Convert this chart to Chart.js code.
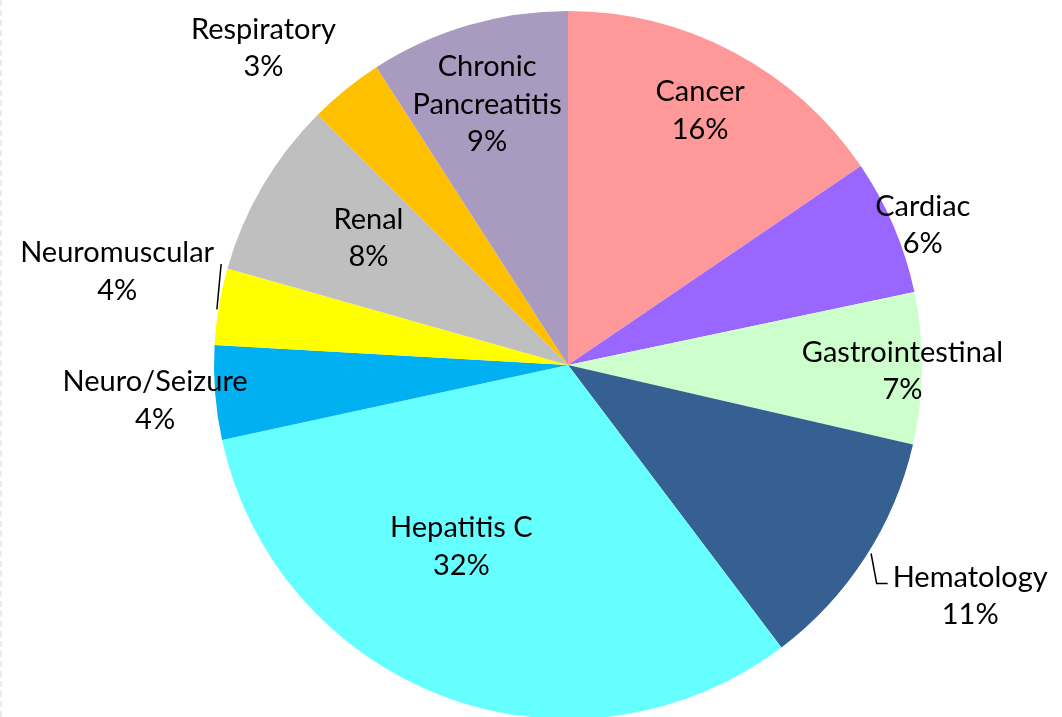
<!DOCTYPE html>
<html>
<head>
<meta charset="utf-8">
<script src="https://cdn.jsdelivr.net/npm/chart.js@4"></script>
<style>
  html, body { margin: 0; padding: 0; background: #fff; overflow: hidden; }
  #wrap { position: relative; width: 1062px; height: 720px; }
  #edge { position: absolute; left: 0; top: 0; width: 0; height: 717px; border-left: 2px dashed #e6ebf4; }
</style>
</head>
<body>
<div id="wrap">
  <canvas id="myChart" width="1062" height="720"></canvas>
  <div id="edge"></div>
</div>
<script>
const categories = ['Cancer', 'Cardiac', 'Gastrointestinal', 'Hematology', 'Hepatitis C',
  'Neuro/Seizure', 'Neuromuscular', 'Renal', 'Respiratory', 'Chronic\nPancreatitis']
const shares = [15.5, 6.2, 6.9, 11.1, 31.9, 4.3, 3.5, 8.1, 3.4, 9.1]
const colors = ['#FF9999', '#9966FF', '#CCFFCC', '#366092', '#66FFFF',
  '#00B0F0', '#FFFF00', '#BFBFBF', '#FFC000', '#A99BC0']

// label placement: distance from centre (x radius) and a small pixel nudge
const labelRadius = [0.81, 1.08, 0.945, 1.31, 0.59, 1.17, 1.30, 0.67, 1.24, 0.77]
const labelNudge = [[-2, -1], [3, 10], [0, 3], [13, -21], [-34, -14], [0, 3], [3, -17], [5, -7], [-29, 25], [-4, 1]]
const leaders = { 3: 'elbow', 6: 'straight' }

const FONT = '29px Lato'
const LINE_H = 37.5

const sliceLabels = {
  id: 'sliceLabels',
  afterDatasetsDraw(chart) {
    const ctx = chart.ctx
    const meta = chart.getDatasetMeta(0)
    const data = chart.data.datasets[0].data
    const total = data.reduce((a, b) => a + b, 0)
    ctx.save()
    ctx.font = FONT
    ctx.fillStyle = '#000'
    ctx.strokeStyle = '#000'
    ctx.lineWidth = 1.5
    ctx.textAlign = 'center'
    ctx.textBaseline = 'middle'
    meta.data.forEach((arc, i) => {
      const p = arc.getProps(['x', 'y', 'startAngle', 'endAngle', 'outerRadius'], true)
      const mid = (p.startAngle + p.endAngle) / 2
      const r = p.outerRadius * labelRadius[i]
      const cx = p.x + Math.cos(mid) * r + labelNudge[i][0]
      const cy = p.y + Math.sin(mid) * r + labelNudge[i][1]
      const lines = categories[i].split('\n').concat(Math.round(data[i] / total * 100) + '%')
      const top = cy - (lines.length - 1) * LINE_H / 2
      lines.forEach((t, k) => ctx.fillText(t, cx, top + k * LINE_H))

      const w = Math.max(...lines.map(t => ctx.measureText(t).width))
      const ex = p.x + Math.cos(mid) * p.outerRadius
      const ey = p.y + Math.sin(mid) * p.outerRadius
      if (leaders[i] === 'elbow') {
        const left = cx - w / 2
        ctx.beginPath()
        ctx.moveTo(ex + 6, ey - 4)
        ctx.lineTo(left - 16, top + 6)
        ctx.lineTo(left - 5, top + 6)
        ctx.stroke()
      } else if (leaders[i] === 'straight') {
        const right = cx + w / 2
        ctx.beginPath()
        ctx.moveTo(ex - 2, ey + 3)
        ctx.lineTo(right + 7, top + 11)
        ctx.stroke()
      }
    })
    ctx.restore()
  }
}

const ctx = document.getElementById('myChart')
const myChart = new Chart(ctx, {
  type: 'pie',
  data: {
    labels: categories,
    datasets: [{
      data: shares,
      backgroundColor: colors,
      borderWidth: 0
    }]
  },
  options: {
    responsive: false,
    animation: false,
    layout: { padding: { top: 11, bottom: 1, left: 214, right: 140 } },
    plugins: {
      legend: { display: false },
      tooltip: { enabled: false }
    }
  },
  plugins: [sliceLabels]
})
</script>
</body>
</html>
